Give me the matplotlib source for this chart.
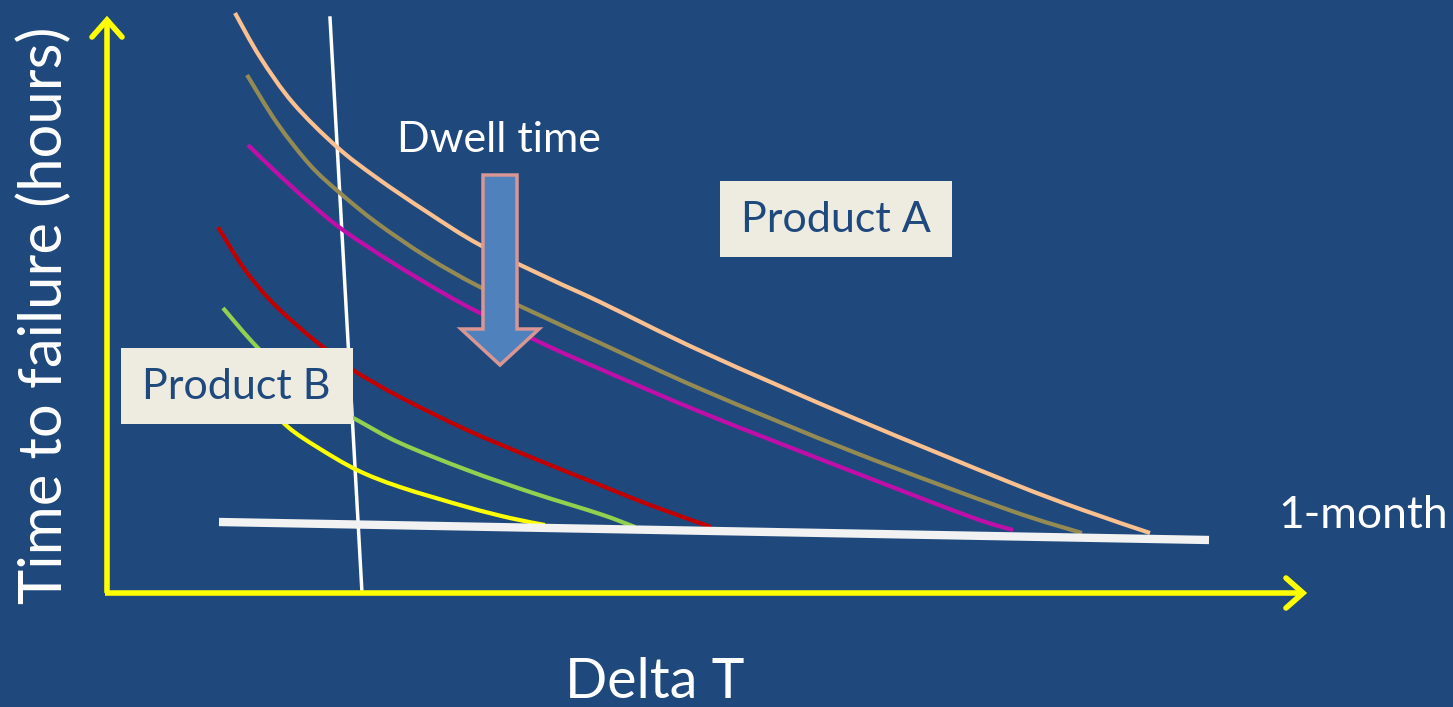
import numpy as np
import matplotlib.pyplot as plt
from matplotlib.patches import FancyArrow, Rectangle, PathPatch
from matplotlib.path import Path

# canvas units are pixels, y grows downward
W, H = 1453, 707
BG = '#1F497D'

# failure curves for different dwell times (x, y) in canvas pixels
peach_x = [235, 260, 293, 337, 377, 427, 480, 550, 600, 703, 856, 1009, 1080, 1150]
peach_y = [13, 57, 103, 147, 178, 212, 245, 279, 302, 352, 419, 482, 509, 533]

olive_x = [247, 277, 310, 340, 377, 427, 480, 550, 600, 703, 856, 1009, 1082]
olive_y = [75, 123, 165, 193, 223, 257, 287, 320, 343, 390, 453, 510, 533]

magenta_x = [248, 277, 310, 343, 393, 443, 480, 550, 600, 703, 856, 971, 1013]
magenta_y = [145, 173, 203, 230, 263, 293, 313, 347, 369, 413, 473, 517, 530]

red_x = [218, 243, 270, 300, 323, 353, 400, 467, 533, 600, 650, 711]
red_y = [227, 267, 300, 328, 347, 370, 397, 430, 458, 485, 505, 527]

green_x = [223, 257, 300, 357, 400, 467, 533, 600, 635]
green_y = [308, 347, 388, 420, 443, 470, 493, 514, 527]

yellow_x = [262, 288, 317, 357, 400, 467, 510, 545]
yellow_y = [400, 427, 447, 470, 487, 507, 518, 525]

curves = [
    (peach_x, peach_y, '#FAC090'),
    (olive_x, olive_y, '#948A54'),
    (magenta_x, magenta_y, '#C00FA8'),
    (red_x, red_y, '#C00000'),
    (green_x, green_y, '#92D050'),
    (yellow_x, yellow_y, '#FFFF00'),
]

# reference lines
month_x = [219, 1209]
month_y = [522, 540]
limit_x = [330, 362]
limit_y = [18, 593]


def smooth_path(xs, ys):
    # cubic bezier segments through the points (catmull-rom tangents)
    p = np.column_stack([xs, ys]).astype(float)
    verts = [p[0]]
    codes = [Path.MOVETO]
    for i in range(len(p) - 1):
        p0 = p[i - 1] if i > 0 else p[i]
        p3 = p[i + 2] if i + 2 < len(p) else p[i + 1]
        c1 = p[i] + (p[i + 1] - p0) / 6
        c2 = p[i + 1] - (p3 - p[i]) / 6
        verts += [c1, c2, p[i + 1]]
        codes += [Path.CURVE4] * 3
    return Path(verts, codes)


fig = plt.figure(figsize=(W / 100, H / 100), dpi=100, facecolor=BG)
ax = fig.add_axes([0, 0, 1, 1])
ax.set_xlim(0, W)
ax.set_ylim(H, 0)
ax.set_facecolor(BG)
ax.axis('off')

font = 'Lato'

# axes drawn as yellow arrows
yel = '#FFFF00'
ax.plot([107, 107], [593, 20], color=yel, lw=4, solid_capstyle='butt', zorder=3)
ax.plot([92, 107, 122], [37, 20, 37], color=yel, lw=4, solid_capstyle='round',
        solid_joinstyle='miter', zorder=3)
ax.plot([105, 1303], [593, 593], color=yel, lw=4, solid_capstyle='butt', zorder=3)
ax.plot([1286, 1303, 1286], [578, 593, 608], color=yel, lw=4, solid_capstyle='round',
        solid_joinstyle='miter', zorder=3)

ax.plot(limit_x, limit_y, color='white', lw=2.5, zorder=2)

for xs, ys, c in curves:
    ax.add_patch(PathPatch(smooth_path(xs, ys), facecolor='none', edgecolor=c,
                           lw=3, capstyle='butt', zorder=3))

ax.plot(month_x, month_y, color='#F2F2F2', lw=6, solid_capstyle='butt', zorder=4)

# dwell time arrow
arr = FancyArrow(500, 175, 0, 190, width=34, head_width=78, head_length=36,
                 length_includes_head=True, facecolor='#4F81BD', edgecolor='#D99694',
                 lw=2.5, zorder=5)
ax.add_patch(arr)

# product boxes
box_c = '#EEECE1'
ax.add_patch(Rectangle((720, 181), 232, 76, facecolor=box_c, edgecolor='none', zorder=6))
ax.text(836, 220, 'Product A', color=BG, fontsize=31, family=font,
        ha='center', va='center', zorder=7)
ax.add_patch(Rectangle((121, 348), 232, 76, facecolor=box_c, edgecolor='none', zorder=6))
ax.text(236, 387, 'Product B', color=BG, fontsize=31, family=font,
        ha='center', va='center', zorder=7)

ax.text(499, 140, 'Dwell time', color='white', fontsize=31, family=font,
        ha='center', va='center', zorder=7)
ax.text(1278, 516, '1-month', color='white', fontsize=32, family=font,
        ha='left', va='center', zorder=7)
ax.text(655, 683, 'Delta T', color='white', fontsize=40, family=font,
        ha='center', va='center', zorder=7)
ax.text(44, 315, 'Time to failure (hours)', color='white', fontsize=43, family=font,
        ha='center', va='center', rotation=90, zorder=7)

fig.savefig('out.png', dpi=100, facecolor=BG)
